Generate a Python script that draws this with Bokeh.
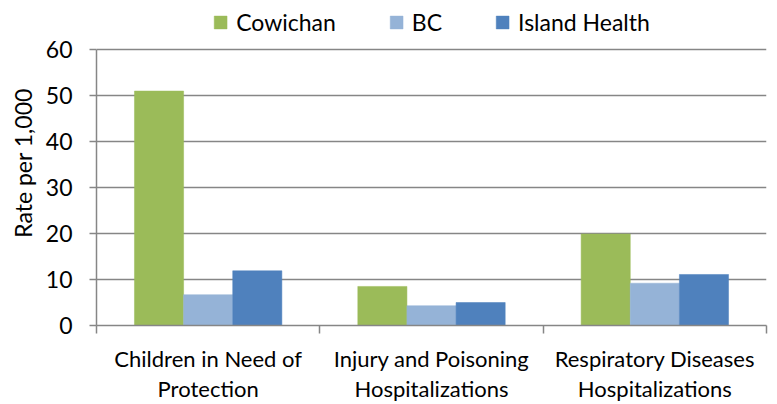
from bokeh.plotting import figure
from bokeh.models import Range1d, FixedTicker, LinearAxis, Legend, LegendItem, ColumnDataSource, Title
from bokeh.embed import file_html
from bokeh.resources import INLINE

cat_line1 = ["Children in Need of", "Injury and Poisoning", "Respiratory Diseases"]
cat_line2 = ["Protection", "Hospitalizations", "Hospitalizations"]
series_names = ["Cowichan", "BC", "Island Health"]
cowichan = [51.0, 8.5, 19.9]
bc = [6.7, 4.3, 9.2]
island_health = [11.9, 5.0, 11.1]
y_ticks = [0, 10, 20, 30, 40, 50, 60]
y_title = "Rate per 1,000"
colors = ["#9BBB59", "#95B3D7", "#4F81BD"]

FONT = "Lato"
GRID = "#868686"
n = len(cat_line1)
y_max = 60
y_top = 70.7  # extra headroom inside the frame for the legend

p = figure(width=777, height=404, output_backend="svg", toolbar_location=None,
           x_range=Range1d(0, n), y_range=Range1d(0, y_top),
           min_border_left=0, min_border_right=11, min_border_top=0, min_border_bottom=0,
           x_axis_location=None, y_axis_location=None)
p.outline_line_color = None

bw = 0.22
offsets = [-bw, 0.0, bw]
renderers = []
for vals, off, col in zip([cowichan, bc, island_health], offsets, colors):
    src = ColumnDataSource(dict(x=[i + 0.5 + off for i in range(n)], top=vals))
    r = p.vbar(x="x", top="top", width=bw, source=src, fill_color=col, line_color=col, line_width=0.5)
    renderers.append(r)

p.xgrid.visible = False
p.ygrid.ticker = FixedTicker(ticks=y_ticks)
p.ygrid.grid_line_color = GRID
p.ygrid.grid_line_width = 1.5

yax = LinearAxis(ticker=FixedTicker(ticks=y_ticks), bounds=(0, y_max))
yax.axis_line_color = GRID
yax.axis_line_width = 1.5
yax.major_tick_line_color = GRID
yax.major_tick_line_width = 1.5
yax.major_tick_out = 7
yax.major_tick_in = 0
yax.minor_tick_line_color = None
yax.major_label_text_font = FONT
yax.major_label_text_font_size = "23px"
yax.major_label_text_color = "#000000"
yax.major_label_standoff = 17
p.add_layout(yax, "left")

# y-axis title, centred on the 0-60 part of the axis
ytitle = Title(text=y_title, align="center", offset=-23, standoff=12,
               text_font=FONT, text_font_size="23px", text_font_style="normal",
               text_color="#000000")
p.add_layout(ytitle, "left")

xax = LinearAxis(ticker=FixedTicker(ticks=list(range(n + 1))))
xax.axis_line_color = GRID
xax.axis_line_width = 1.5
xax.major_tick_line_color = GRID
xax.major_tick_line_width = 1.5
xax.major_tick_out = 8
xax.major_tick_in = 0
xax.minor_tick_line_color = None
xax.major_label_text_alpha = 0
xax.major_label_text_font_size = "1px"
xax.major_label_standoff = 0
p.add_layout(xax, "below")

for lines, standoff in [(cat_line1, 11), (cat_line2, 0)]:
    cax = LinearAxis(ticker=FixedTicker(ticks=[i + 0.5 for i in range(n)]))
    cax.major_label_overrides = {i + 0.5: t for i, t in enumerate(lines)}
    cax.axis_line_color = None
    cax.major_tick_line_color = None
    cax.minor_tick_line_color = None
    cax.major_tick_out = 0
    cax.major_tick_in = 0
    cax.major_label_text_font = FONT
    cax.major_label_text_font_size = "22px"
    cax.major_label_text_color = "#000000"
    cax.major_label_standoff = standoff
    p.add_layout(cax, "below")

legend = Legend(items=[LegendItem(label=s, renderers=[r]) for s, r in zip(series_names, renderers)],
                orientation="horizontal", location="top_center")
legend.label_text_font = FONT
legend.label_text_font_size = "23px"
legend.label_text_color = "#000000"
legend.glyph_width = 16
legend.glyph_height = 16
legend.label_standoff = 8
legend.spacing = 52
legend.border_line_color = None
legend.background_fill_alpha = 0
legend.padding = 0
legend.margin = 8
p.add_layout(legend, "center")

open("out.html", "w").write(file_html(p, INLINE))
